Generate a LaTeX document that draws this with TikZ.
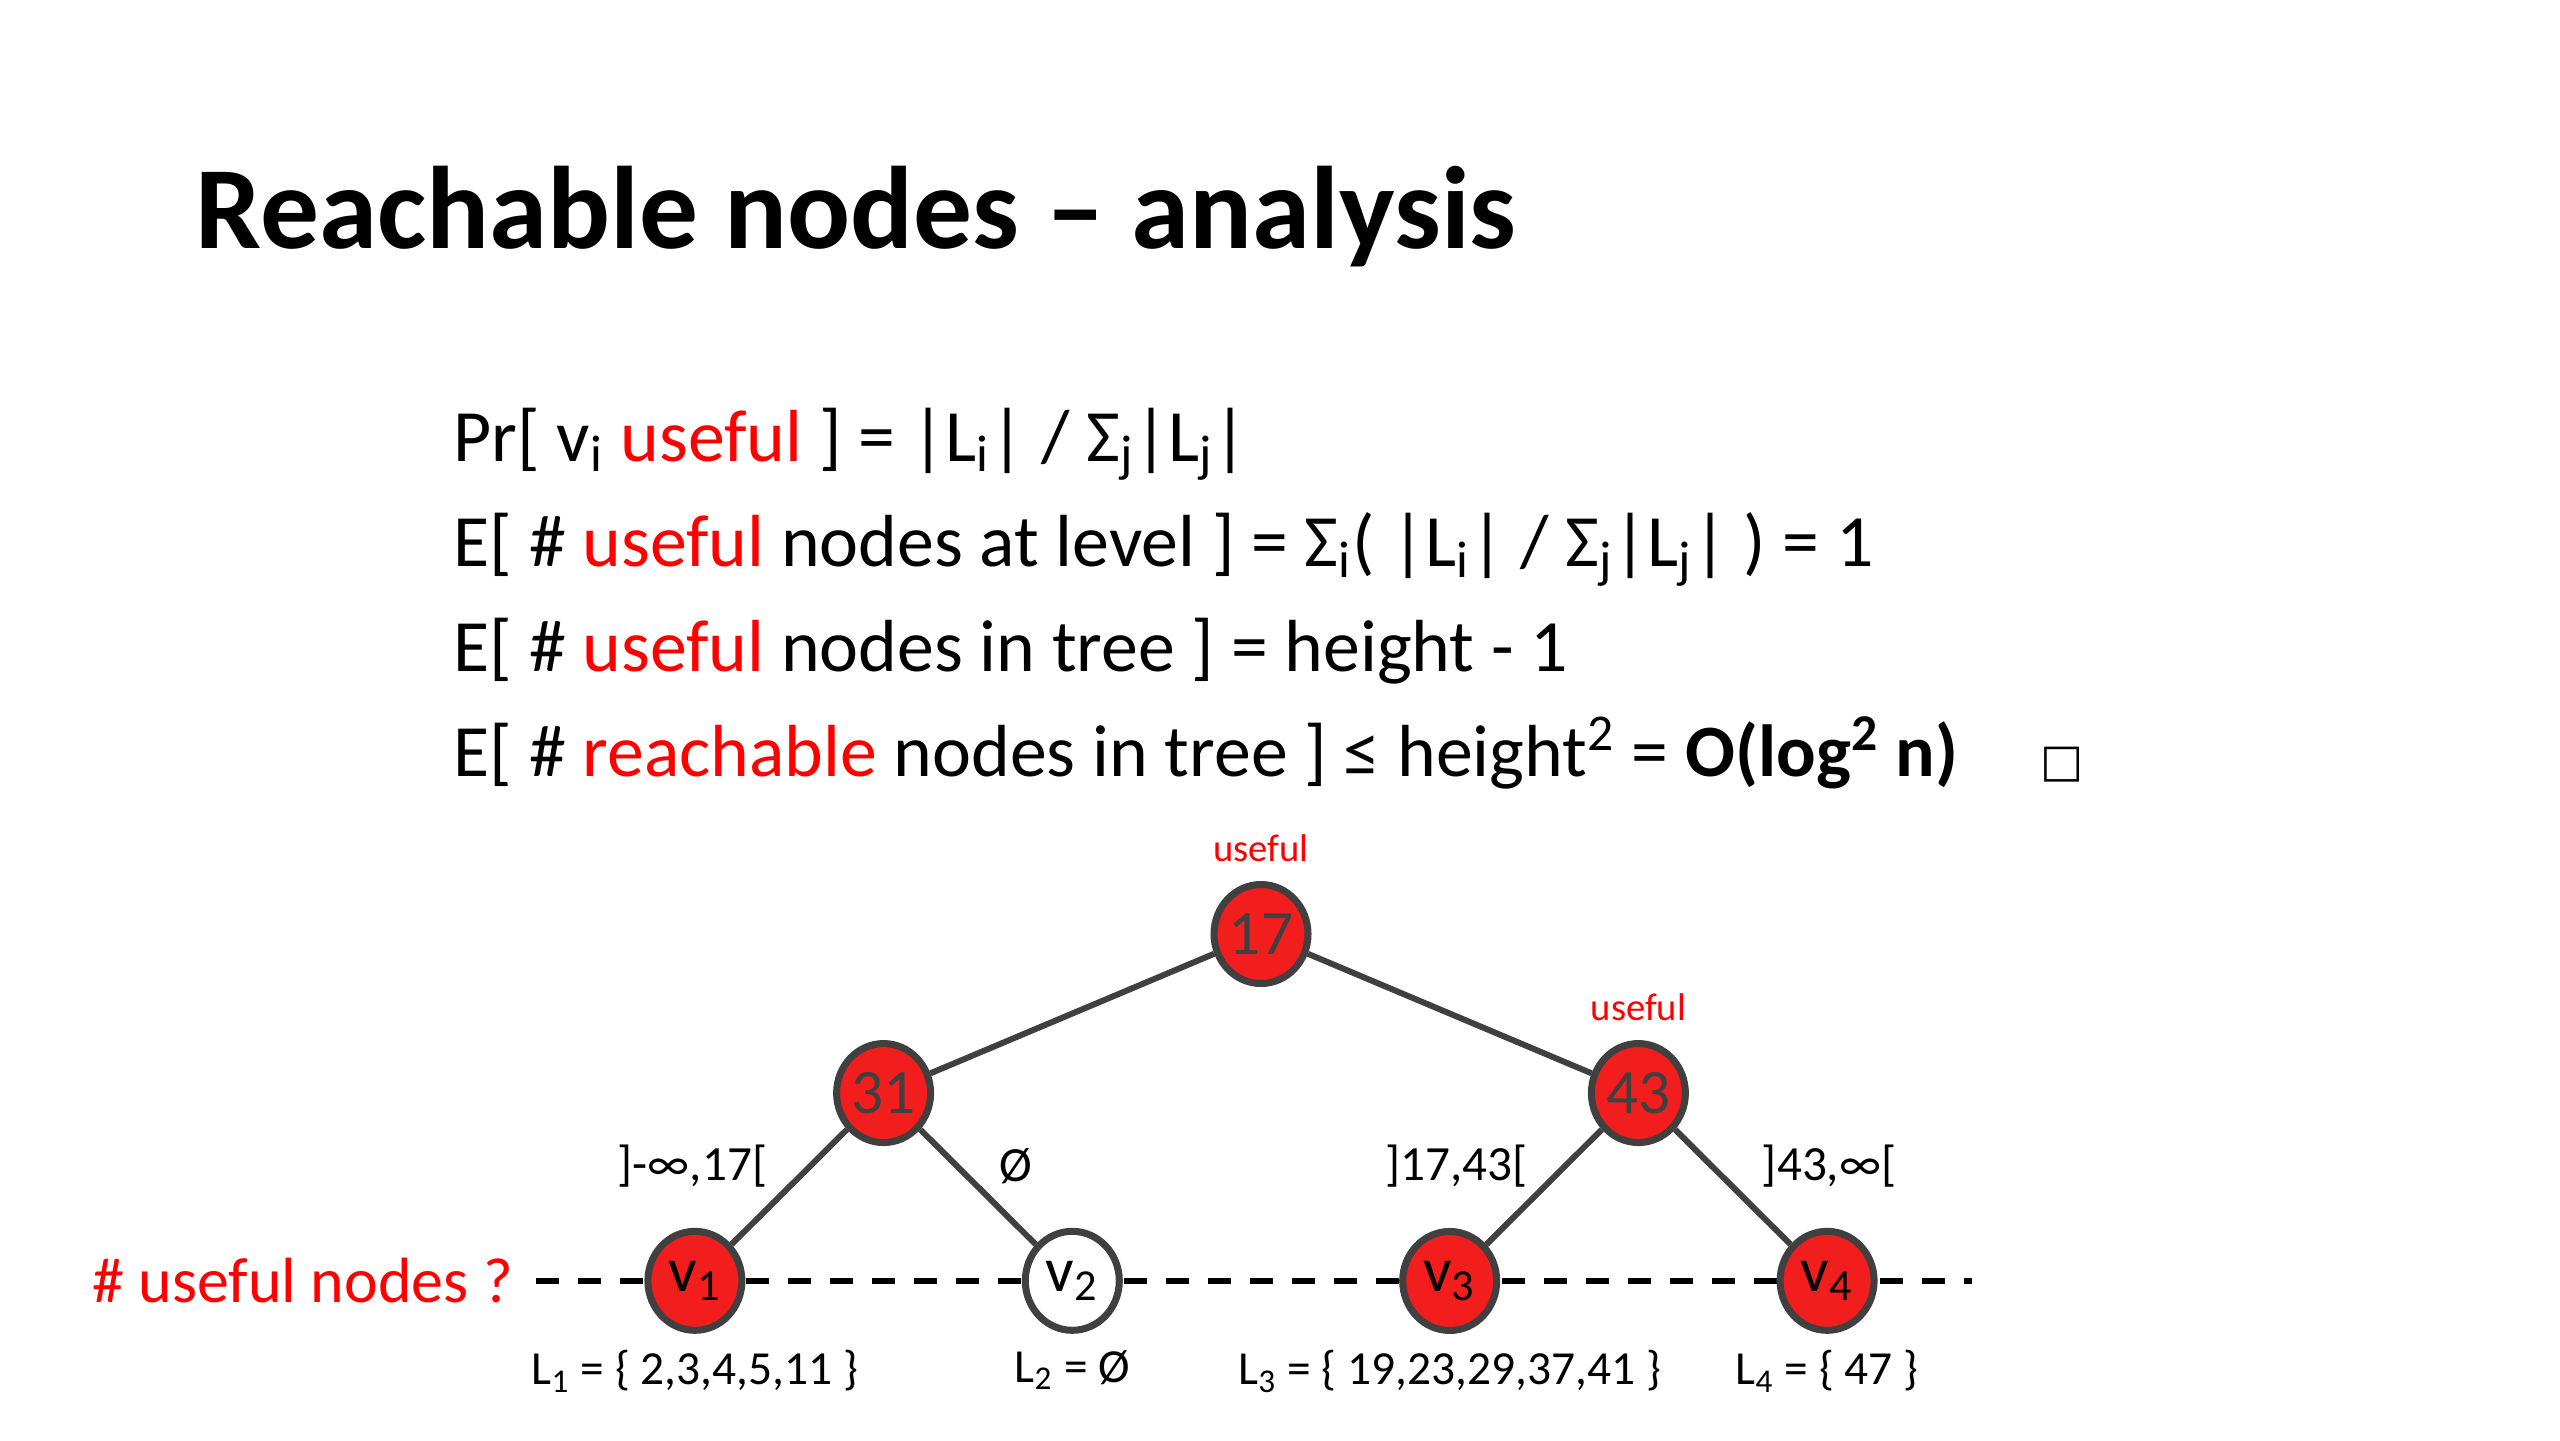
\documentclass[tikz,border=0pt]{standalone}
\usepackage{fontspec}
\setmainfont{Carlito}
\newfontfamily\boxfont{DejaVu Sans}
\usepackage{tikz}
\usetikzlibrary{matrix,positioning,shapes.geometric,backgrounds}
\definecolor{slidered}{RGB}{255,0,0}
\definecolor{nodered}{RGB}{242,30,30}
\definecolor{edgegray}{RGB}{64,64,64}

\begin{document}
\begin{tikzpicture}[
	treenode/.style={ellipse, draw=edgegray, line width=2pt, fill=nodered, minimum width=0.94cm, minimum height=0.99cm, inner sep=0pt, text=edgegray, font=\fontsize{18}{18}\selectfont},
	leafnode/.style={treenode, text=black},
	emptyleaf/.style={leafnode, fill=white},
	treeedge/.style={edgegray, line width=1.7pt},
	rangelabel/.style={text=black, inner sep=0pt, font=\fontsize{14}{16}\selectfont},
	setlabel/.style={text=black, font=\fontsize{13.5}{16}\selectfont},
	usefultext/.style={text=slidered, font=\fontsize{11}{13}\selectfont},
	querytext/.style={text=slidered, font=\fontsize{18.2}{20}\selectfont},
	bodyline/.style={anchor=base west, inner sep=0pt, font=\fontsize{21}{25}\selectfont},
	levelline/.style={black, line width=1.7pt, dash pattern=on 0.23cm off 0.19cm}
	]
	\useasboundingbox (0,0) rectangle (25.6,-14.4);

	\node[bodyline, font=\fontsize{33.4}{40}\selectfont\bfseries] (title) at (1.95,-2.48) {Reachable nodes – analysis};

	\node[bodyline] (line1) at (4.53,-4.61) {Pr[ v\textsubscript{i} \textcolor{slidered}{useful} ] = |L\textsubscript{i}| / Σ\textsubscript{j}|L\textsubscript{j}|};
	\node[bodyline] (line2) at ([yshift=-1.053cm]line1.base west) {E[ \# \textcolor{slidered}{useful} nodes at level ] = Σ\textsubscript{i}( |L\textsubscript{i}| / Σ\textsubscript{j}|L\textsubscript{j}| ) = 1};
	\node[bodyline] (line3) at ([yshift=-1.053cm]line2.base west) {E[ \# \textcolor{slidered}{useful} nodes in tree ] = height - 1};
	\node[bodyline] (line4) at ([yshift=-1.053cm]line3.base west) {E[ \# \textcolor{slidered}{reachable} nodes in tree ] ≤ height\textsuperscript{2} = \textbf{O(log\textsuperscript{2} n)}\hspace{0.82cm}{\fontsize{13}{15}\boxfont □}};

	\matrix (m) [matrix of nodes, column sep={1.887cm,between origins}, row sep={1.59cm,between origins}, matrix anchor=m-1-4.center] at (12.61,-9.34)
	{
		& & & |[treenode]| 17 & & & \\
		& |[treenode]| 31 & & & & |[treenode]| 43 & \\[0.19cm]
		|[leafnode]| v\textsubscript{1} & & |[emptyleaf]| v\textsubscript{2} & & |[leafnode]| v\textsubscript{3} & & |[leafnode]| v\textsubscript{4} \\
	};
	\path[treeedge]
	(m-1-4) edge (m-2-2)
	edge (m-2-6)
	(m-2-2) edge node[rangelabel, pos=.32, left=0.4cm] {]-∞,17[} (m-3-1)
	edge node[rangelabel, pos=.32, right=0.39cm] {Ø} (m-3-3)
	(m-2-6) edge node[rangelabel, pos=.32, left=0.34cm] {]17,43[} (m-3-5)
	edge node[rangelabel, pos=.32, right=0.47cm] {]43,∞[} (m-3-7)
	;

	\node[usefultext, above=0.07cm of m-1-4] (useful17) {useful};
	\node[usefultext, above=0.07cm of m-2-6] (useful43) {useful};

	\node[setlabel, below=0.04cm of m-3-1] (set1) {L\textsubscript{1} = \{ 2,3,4,5,11 \}};
	\node[setlabel, below=0.04cm of m-3-3] (set2) {L\textsubscript{2} = Ø};
	\node[setlabel, below=0.04cm of m-3-5] (set3) {L\textsubscript{3} = \{ 19,23,29,37,41 \}};
	\node[setlabel, below=0.04cm of m-3-7] (set4) {L\textsubscript{4} = \{ 47 \}};

	\node[querytext, left=1.19cm of m-3-1] (query) {\# useful nodes ?};
	\coordinate[right=0.94cm of m-3-7] (lineend);
	\begin{scope}[on background layer]
		\fill[white] (0,0) rectangle (25.6,-14.4);
		\draw[levelline, shorten <=0.11cm] (query.east) -- (lineend);
	\end{scope}
\end{tikzpicture}
\end{document}
